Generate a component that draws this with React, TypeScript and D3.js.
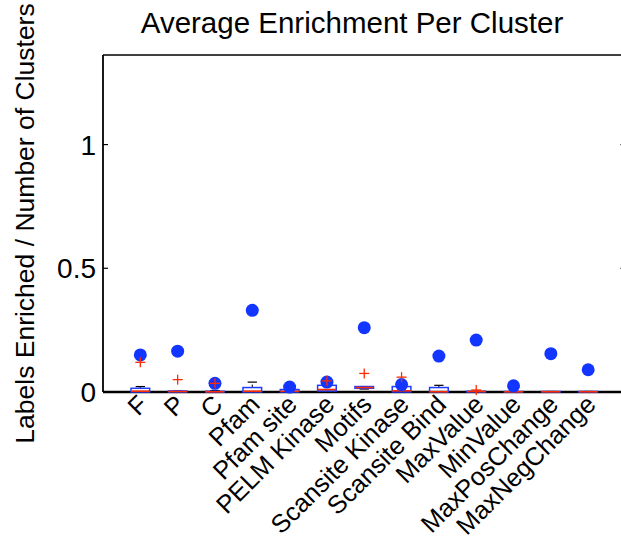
import React from "react";
import * as d3 from "d3";

const categories = ["F", "P", "C", "Pfam", "Pfam site", "PELM Kinase", "Motifs", "Scansite Kinase", "Scansite Bind", "MaxValue", "MinValue", "MaxPosChange", "MaxNegChange"];
const means = [0.15, 0.165, 0.035, 0.33, 0.02, 0.04, 0.26, 0.03, 0.145, 0.21, 0.025, 0.155, 0.09];
const q1 = [0, 0, 0, 0, 0, 0.004, 0.015, 0, 0, 0, 0, 0, 0];
const medians = [0.003, 0.002, 0.001, 0.003, 0.003, 0.01, 0.018, 0.005, 0.001, 0.002, 0.001, 0.001, 0.001];
const q3 = [0.015, 0.004, 0.003, 0.018, 0.01, 0.027, 0.022, 0.022, 0.018, 0.003, 0.002, 0.002, 0.002];
const whiskerLo = [0, 0, 0, 0, 0, 0, 0.012, 0, 0, 0, 0, 0, 0];
const whiskerHi = [0.022, 0.004, 0.006, 0.04, 0.01, 0.03, 0.022, 0.022, 0.027, 0.003, 0.002, 0.002, 0.002];
const outliers: number[][] = [[0.12], [0.05], [0.035], [], [], [0.045], [0.075], [0.06], [], [0.008], [], [], []];
const yTicks = [0, 0.5, 1];

const W = 621, H = 539;
const left = 103, right = 625.5, top = 55, bottom = 392;

export default function App() {
  const x = d3.scaleLinear().domain([0, 14]).range([left, right]);
  const y = d3.scaleLinear().domain([0, 1.362]).range([bottom, top]);
  const bw = x(0.25) - x(0);
  const font = "'Liberation Sans', Arial, Helvetica, sans-serif";
  return (
    <svg width={W} height={H} style={{ position: "absolute", left: 0, top: 0, background: "#fff" }} fontFamily={font}>
      <rect x={0} y={0} width={W} height={H} fill="#fff" />
      <text x={352} y={33} fontSize={29.5} textAnchor="middle">Average Enrichment Per Cluster</text>
      <text transform={`translate(34,${(top + bottom) / 2}) rotate(-90)`} fontSize={26.5} textAnchor="middle">Labels Enriched / Number of Clusters</text>
      <line x1={left} x2={right} y1={top} y2={top} stroke="#000" strokeWidth={1.6} />
      <line x1={right} x2={right} y1={top} y2={bottom} stroke="#000" strokeWidth={1.6} />
      <line x1={left} x2={left} y1={top} y2={bottom} stroke="#000" strokeWidth={1.8} />
      <line x1={left} x2={right} y1={bottom} y2={bottom} stroke="#000" strokeWidth={2.5} />
      {yTicks.map((t) => (
        <g key={t}>
          <line x1={left} x2={left + 5} y1={y(t)} y2={y(t)} stroke="#000" strokeWidth={1.2} />
          <line x1={right - 5} x2={right} y1={y(t)} y2={y(t)} stroke="#000" strokeWidth={1.2} />
          <text x={96} y={y(t) + 10} fontSize={28} textAnchor="end">{String(t)}</text>
        </g>
      ))}
      {categories.map((c, i) => {
        const cx = x(i + 1);
        return (
          <g key={c}>
            <line x1={cx} x2={cx} y1={y(q3[i])} y2={y(whiskerHi[i])} stroke="#000" strokeWidth={1} strokeDasharray="3,2" />
            <line x1={cx} x2={cx} y1={y(q1[i])} y2={y(whiskerLo[i])} stroke="#000" strokeWidth={1} strokeDasharray="3,2" />
            <line x1={cx - bw / 2} x2={cx + bw / 2} y1={y(whiskerHi[i])} y2={y(whiskerHi[i])} stroke="#000" strokeWidth={1.2} />
            <line x1={cx - bw / 2} x2={cx + bw / 2} y1={y(whiskerLo[i])} y2={y(whiskerLo[i])} stroke="#000" strokeWidth={1.2} />
            <rect x={cx - bw} y={y(q3[i])} width={bw * 2} height={Math.max(y(q1[i]) - y(q3[i]), 0.5)} fill="none" stroke="#1f3cff" strokeWidth={1.5} />
            <line x1={cx - bw} x2={cx + bw} y1={y(medians[i])} y2={y(medians[i])} stroke="#ff2a00" strokeWidth={1.6} />
            <circle cx={cx} cy={y(means[i])} r={6.5} fill="#1236ff" />
            {outliers[i].map((o, k) => (
              <g key={k} stroke="#ff2a00" strokeWidth={1.3}>
                <line x1={cx - 5} x2={cx + 5} y1={y(o)} y2={y(o)} />
                <line x1={cx} x2={cx} y1={y(o) - 5} y2={y(o) + 5} />
              </g>
            ))}
            <text transform={`translate(${cx - 4},${bottom + 1}) rotate(-45)`} fontSize={25.5} textAnchor="end" dy="0.72em">{c}</text>
          </g>
        );
      })}
    </svg>
  );
}
